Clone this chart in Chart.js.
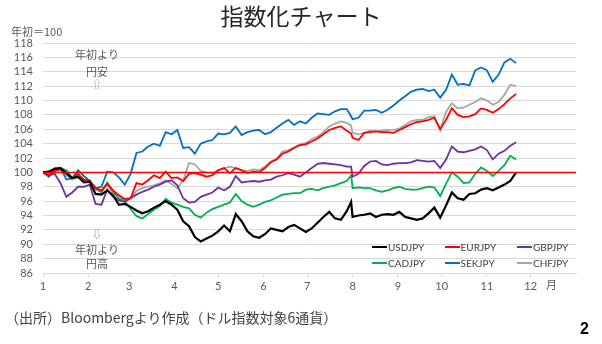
<!DOCTYPE html>
<html><head><meta charset="utf-8">
<script src="https://cdn.jsdelivr.net/npm/chart.js@4/dist/chart.umd.min.js"></script>
<style>
html,body{margin:0;padding:0;background:#fff;}
#wrap{position:relative;width:602px;height:344px;overflow:hidden;font-family:"Noto Sans CJK JP","Noto Sans",sans-serif;}
canvas{position:absolute;left:0;top:0;}
.t{position:absolute;white-space:nowrap;color:#595959;line-height:1;}
#legend{position:absolute;left:372px;top:239px;width:220px;font-family:Lato,"Noto Sans",sans-serif;font-size:10px;color:#404040;}
.li{display:inline-block;width:72.5px;height:16px;line-height:16px;white-space:nowrap;}
.li span.sw{display:inline-block;width:15px;height:2px;vertical-align:middle;margin-right:1px;position:relative;top:-1px;}
</style></head><body>
<div id="wrap">
<canvas id="c" width="602" height="344"></canvas>
<div class="t" style="left:0;width:602px;text-align:center;top:4px;font-size:23px;color:#262626;">指数化チャート</div>
<div class="t" style="left:11px;top:26px;font-size:11px;">年初＝100</div>
<div class="t" style="left:67px;width:60px;text-align:center;top:49px;font-size:11px;">年初より</div>
<div class="t" style="left:67px;width:60px;text-align:center;top:66px;font-size:11px;">円安</div>
<div class="t" style="left:67px;width:60px;text-align:center;top:79px;font-size:10px;color:#8c8c8c;">⇧</div>
<div class="t" style="left:67px;width:60px;text-align:center;top:229px;font-size:10px;color:#8c8c8c;">⇩</div>
<div class="t" style="left:67px;width:60px;text-align:center;top:244px;font-size:11px;">年初より</div>
<div class="t" style="left:67px;width:60px;text-align:center;top:258px;font-size:11px;">円高</div>
<div class="t" style="left:546px;top:279px;font-size:11px;">月</div>
<div class="t" style="left:5px;top:310px;font-size:14px;color:#404040;">（出所）Bloombergより作成（ドル指数対象6通貨）</div>
<div class="t" style="left:580px;top:321px;font-size:16px;font-weight:bold;color:#000;font-family:'Liberation Sans',sans-serif;">2</div>
<div id="legend"></div>
</div>
<script>
// day of year (Jan 1 = 0)
const days = [0,4,8,12,16,20,24,28,32,36,
 40,44,48,52,56,60,64,68,72,76,
 80,84,88,92,96,100,104,108,112,116,
 120,124,128,132,136,140,144,148,152,156,
 160,164,168,172,176,180,184,188,192,196,
 200,204,208,211,212,216,220,224,228,232,
 236,240,244,248,252,256,260,264,268,272,
 276,280,284,288,292,296,300,304,308,312,
 316,320,324];
const monthStarts = [0,31,59,90,120,151,181,212,243,273,304,334];
const monthLabels = ['1','2','3','4','5','6','7','8','9','10','11','12'];
const seriesNames = ['USDJPY','EURJPY','GBPJPY','CADJPY','SEKJPY','CHFJPY'];
const BASELINE = 100;

const usdjpy = [100,100.1,100.5,100.6,99.9,99.2,99.4,98.6,98.7,97.0,
 96.9,97.5,96.8,95.5,95.6,95.2,94.7,94.3,94.6,95.1,
 95.5,96.0,95.5,94.8,93.2,92.5,91.0,90.4,90.8,91.2,
 91.8,92.6,91.8,94.2,93.2,91.8,91.1,90.9,91.4,92.2,
 92.0,91.8,92.4,92.7,92.2,91.7,92.2,93.0,93.8,94.5,
 93.6,93.4,94.6,95.9,93.8,94.0,94.1,94.3,93.8,94.1,
 94.2,94.1,94.5,93.8,93.6,93.4,93.6,94.3,95.1,93.7,
 95.4,97.2,96.4,96.2,97.0,97.1,97.6,97.8,97.5,97.9,
 98.3,98.8,100.0];
const eurjpy = [100,99.6,100.2,100.4,99.8,99.2,99.8,99.0,98.8,97.8,
 97.5,98.4,97.5,96.8,96.3,96.4,98.5,98.3,98.9,99.6,
 99.2,100.1,99.2,99.3,98.8,99.8,99.9,99.7,99.4,99.6,
 100.3,100.6,99.9,100.6,100.3,99.9,100.1,100.0,100.6,101.4,
 101.8,102.6,102.9,103.4,103.8,103.9,104.3,104.7,105.3,105.9,
 106.2,106.4,105.8,105.4,104.8,104.5,105.5,105.6,105.7,105.6,
 105.6,105.5,105.9,106.3,106.7,107.0,107.1,107.3,107.6,106.0,
 107.3,108.9,108.0,107.7,107.8,108.1,108.9,108.7,108.3,108.8,
 109.5,110.3,110.9];
const gbpjpy = [100,99.6,99.8,98.5,96.6,97.2,98.0,98.0,98.3,95.6,
 95.5,97.6,96.6,96.1,95.9,96.4,96.9,97.3,97.6,98.0,
 98.3,98.7,98.9,98.2,96.4,95.8,95.9,96.6,96.9,97.2,
 97.9,97.5,98.0,99.5,98.6,98.7,98.8,98.7,98.9,99.0,
 99.4,99.6,99.9,99.7,99.4,100.0,100.6,101.2,101.3,101.2,
 101.1,101.0,100.8,100.8,99.4,99.8,100.9,101.5,101.6,101.1,
 101.0,101.2,101.3,101.3,101.4,101.7,101.6,101.5,101.6,100.6,
 101.8,103.6,102.9,102.8,103.0,103.2,103.6,103.1,101.8,102.6,
 103.0,103.7,104.2];
const cadjpy = [100,100.0,100.6,100.6,100.3,99.2,99.3,99.0,98.9,97.8,
 97.2,98.6,97.3,96.3,96.0,94.9,93.9,93.6,94.2,94.8,
 95.3,96.3,95.8,95.5,95.2,95.0,94.1,93.7,94.4,94.9,
 95.2,95.5,95.8,97.0,96.0,95.5,95.2,95.5,95.9,96.1,
 96.5,96.9,97.0,97.1,97.1,97.6,97.7,97.5,97.8,98.0,
 98.2,98.5,98.8,99.6,97.8,97.9,97.8,97.8,97.5,97.3,
 97.5,97.8,98.0,97.7,97.6,97.6,97.8,98.0,97.9,96.7,
 98.4,100.0,99.4,98.5,98.6,99.8,100.7,100.2,99.5,100.2,
 101.0,102.3,101.8];
const sekjpy = [100,99.4,100.3,100.6,99.0,99.2,100.3,99.5,98.8,97.8,
 98.0,100.1,100.0,99.3,98.3,99.8,102.7,102.9,103.6,104.0,
 103.7,105.6,105.3,105.9,103.4,103.5,102.6,104.0,104.3,104.5,
 105.4,105.3,105.5,106.4,105.2,105.6,105.8,105.9,105.3,105.6,
 106.2,106.8,107.3,106.6,107.1,106.8,107.6,108.2,108.1,108.0,
 108.5,108.8,108.8,107.8,107.4,107.6,108.6,108.6,108.7,108.3,
 108.7,109.3,110.0,110.6,111.2,111.5,111.6,111.3,111.5,110.4,
 111.5,113.6,112.2,112.3,112.1,114.2,114.6,114.2,112.6,113.6,
 115.3,115.8,115.2];
const chfjpy = [100,99.7,100.3,100.5,99.6,99.0,99.6,98.9,98.6,97.6,
 97.3,98.2,97.2,96.7,96.0,96.4,97.4,97.8,98.0,98.2,
 98.5,98.9,98.4,97.8,98.9,101.3,101.1,100.2,100.0,99.9,
 100.3,100.6,100.8,100.6,100.3,100.2,100.4,100.3,100.8,101.5,
 101.9,102.9,103.1,103.5,103.9,104.1,104.6,105.0,105.6,106.4,
 106.8,107.1,106.9,106.5,105.5,105.3,105.5,105.8,105.7,105.8,
 105.9,105.9,106.1,106.6,107.1,107.3,107.3,107.7,107.8,105.9,
 108.4,109.6,108.9,109.0,109.4,109.8,110.3,110.0,109.4,109.8,
 110.8,112.2,112.0];

const seriesValues = [usdjpy, eurjpy, gbpjpy, cadjpy, sekjpy, chfjpy];
const colors = ['#000000','#ff0000','#7030a0','#00b050','#0070c0','#a6a6a6'];
const widths = [2.2,1.8,1.8,1.8,1.8,1.8];

const datasets = seriesNames.map((name,i)=>({
  label:name,
  data: days.map((d,j)=>({x:d,y:seriesValues[i][j]})),
  borderColor:colors[i], backgroundColor:colors[i],
  borderWidth:widths[i], pointRadius:0, tension:0, fill:false
}));

const baselinePlugin = {
  id:'baseline',
  afterDatasetsDraw(chart){
    const {ctx, chartArea:a, scales:{y}} = chart;
    const py = Math.round(y.getPixelForValue(BASELINE))+0.5;
    ctx.save(); ctx.strokeStyle='#ff0000'; ctx.lineWidth=1.6;
    ctx.beginPath(); ctx.moveTo(a.left,py); ctx.lineTo(a.right,py); ctx.stroke(); ctx.restore();
  }
};

new Chart(document.getElementById('c'), {
  type:'line',
  data:{datasets},
  options:{
    responsive:false, animation:false, devicePixelRatio:1,
    layout:{padding:{left:0,top:43,right:26,bottom:47}},
    plugins:{legend:{display:false}, tooltip:{enabled:false}, title:{display:false}},
    scales:{
      x:{type:'linear', min:0, max:365,
        afterBuildTicks(s){ s.ticks = monthStarts.map(v=>({value:v})); },
        afterFit(s){ s.height = 24; },
        ticks:{callback:(v,i)=>monthLabels[i], color:'#595959', font:{family:'Lato', size:11}, padding:3, maxRotation:0, autoSkip:false},
        grid:{drawOnChartArea:false, drawTicks:true, tickLength:4, color:'#d9d9d9'},
        border:{display:true, color:'#d9d9d9'}
      },
      y:{min:86, max:118,
        afterFit(s){ s.width = 43; },
        ticks:{stepSize:2, autoSkip:false, color:'#595959', font:{family:'Lato', size:11}, padding:10},
        grid:{color:'#d9d9d9', drawTicks:false},
        border:{display:false}
      }
    }
  },
  plugins:[baselinePlugin]
});

const lg = document.getElementById('legend');
seriesNames.forEach((n,i)=>{
  const d = document.createElement('div'); d.className='li';
  const s = document.createElement('span'); s.className='sw'; s.style.background = colors[i];
  d.appendChild(s); d.appendChild(document.createTextNode(n));
  lg.appendChild(d);
});
</script>
</body></html>
